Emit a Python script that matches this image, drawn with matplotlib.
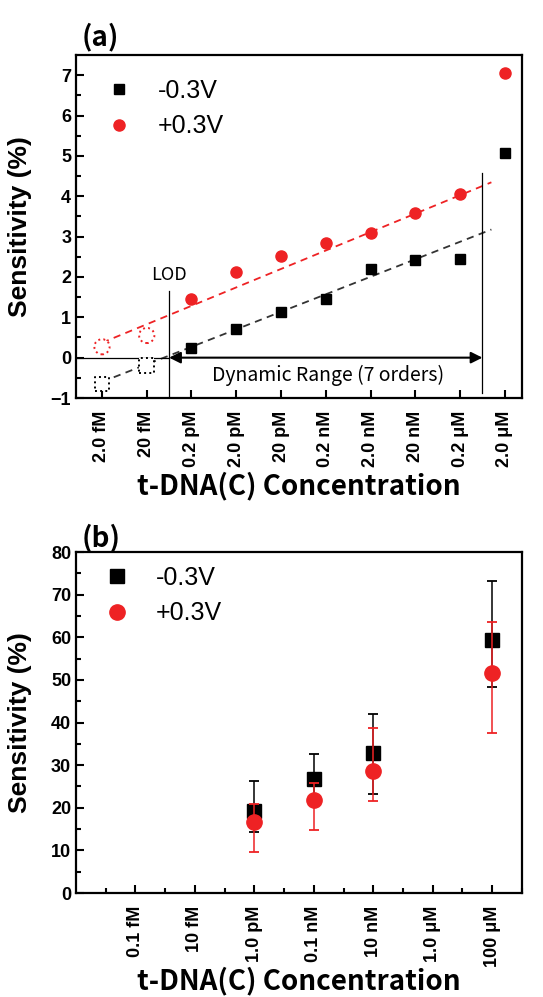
import numpy as np
import matplotlib.pyplot as plt

# panel (a) data
conc_a = ['2.0 fM', '20 fM', '0.2 pM', '2.0 pM', '20 pM', '0.2 nM', '2.0 nM', '20 nM', '0.2 μM', '2.0 μM']
neg_a = [-0.65, -0.2, 0.25, 0.7, 1.13, 1.46, 2.2, 2.42, 2.44, 5.08]
pos_a = [0.27, 0.55, 1.45, 2.13, 2.52, 2.85, 3.08, 3.58, 4.05, 7.05]
below_lod = 2  # first two points are below the LOD (open symbols)
# dashed linear fits: (intercept at first tick, slope per decade)
fit_neg = (-0.6, 0.434)
fit_pos = (0.37, 0.457)
fit_end = 8.7

# panel (b) data
conc_b = ['0.1 fM', '10 fM', '1.0 pM', '0.1 nM', '10 nM', '1.0 μM', '100 μM']
idx_b = [2, 3, 4, 6]
neg_b = [19.2, 26.8, 32.9, 59.4]
neg_b_lo = [14.3, 21.0, 23.2, 48.4]
neg_b_hi = [26.3, 32.6, 42.0, 73.2]
pos_b = [16.7, 21.8, 28.6, 51.6]
pos_b_lo = [9.6, 14.8, 21.6, 37.6]
pos_b_hi = [20.9, 25.8, 38.7, 63.6]

RED = '#ee2224'
tick_font = dict(family='Liberation Sans', weight='bold', size=13)
kfont = ['Noto Sans CJK KR', 'DejaVu Sans']
leg_font = dict(family='Liberation Sans', size=18)

fig = plt.figure(figsize=(5.43, 9.97), dpi=100)
ax1 = fig.add_axes([0.140, 0.6008, 0.821, 0.344])
ax2 = fig.add_axes([0.140, 0.1043, 0.821, 0.342])


def style_axes(ax):
    for s in ax.spines.values():
        s.set_linewidth(1.6)
    ax.tick_params(direction='in', width=1.5, length=6, top=False, right=False)
    ax.tick_params(which='minor', direction='in', width=1.5, length=3.5, top=False, right=False)
    for lab in ax.get_yticklabels():
        lab.set_fontproperties(tick_font)
    ax.set_ylabel('Sensitivity (%)', fontsize=19, fontweight='bold', family='Liberation Sans')
    ax.set_xlabel('t-DNA(C) Concentration', fontsize=20, fontweight='bold', family=kfont)
    ax.xaxis.set_label_coords(0.5, -0.215)
    ax.yaxis.set_label_coords(-0.098, 0.5)


# ---------- (a) ----------
x_a = np.arange(len(conc_a))
ax1.set_xlim(-0.58, 9.38)
ax1.set_ylim(-1, 7.5)

xs = np.array([0, fit_end])
ax1.plot(xs, fit_neg[0] + fit_neg[1] * xs, '--', color='#333333', lw=1.3, dashes=(4, 3), zorder=1)
ax1.plot(xs, fit_pos[0] + fit_pos[1] * xs, '--', color=RED, lw=1.3, dashes=(4, 3), zorder=1)

ax1.scatter(x_a[:below_lod], neg_a[:below_lod], marker='s', s=110, facecolors='white',
            edgecolors='black', linestyles=':', linewidths=1.4, zorder=3)
ax1.scatter(x_a[:below_lod], pos_a[:below_lod], marker='o', s=120, facecolors='white',
            edgecolors=RED, linestyles=':', linewidths=1.4, zorder=3)
ax1.plot(x_a[below_lod:], neg_a[below_lod:], 's', color='black', ms=7, ls='none', label='-0.3V', zorder=3)
ax1.plot(x_a[below_lod:], pos_a[below_lod:], 'o', color=RED, ms=8, ls='none', label='+0.3V', zorder=3)

# LOD and dynamic range guides
ax1.plot([-0.58, 1.5], [0, 0], color='black', lw=0.9)
ax1.plot([1.5, 1.5], [-1, 1.66], color='black', lw=0.9)
ax1.plot([8.5, 8.5], [-0.87, 4.57], color='black', lw=0.9)
ax1.text(1.5, 1.83, 'LOD', ha='center', va='bottom', fontsize=13, family=kfont)
ax1.annotate('', xy=(1.5, 0), xytext=(8.5, 0),
             arrowprops=dict(arrowstyle='<|-|>', color='black', lw=1.5, mutation_scale=17,
                             shrinkA=0, shrinkB=0))
ax1.text(5.05, -0.45, 'Dynamic Range (7 orders)', ha='center', va='center', fontsize=14, family=kfont)

ax1.set_xticks(x_a)
ax1.set_xticklabels(conc_a, rotation=90, fontproperties=tick_font)
ax1.set_yticks(np.arange(-1, 8))
ax1.set_yticks(np.arange(-0.5, 7.5, 1), minor=True)
ax1.tick_params(axis='x', pad=9)
style_axes(ax1)
ax1.legend(loc='upper left', bbox_to_anchor=(-0.01, 0.995), frameon=False, numpoints=1,
           prop=leg_font, handletextpad=0.55, labelspacing=0.45)
ax1.text(0.013, 1.01, '(a)', transform=ax1.transAxes, fontsize=20, fontweight='bold',
         family=kfont, va='bottom', ha='left')

# ---------- (b) ----------
ax2.set_xlim(-1, 6.5)
ax2.set_ylim(0, 80)
neg_err = [np.array(neg_b) - np.array(neg_b_lo), np.array(neg_b_hi) - np.array(neg_b)]
pos_err = [np.array(pos_b) - np.array(pos_b_lo), np.array(pos_b_hi) - np.array(pos_b)]
ax2.errorbar(idx_b, neg_b, yerr=neg_err, fmt='s', color='black', ms=10, elinewidth=1.1,
             capsize=3.5, capthick=1.3, label='-0.3V', zorder=3)
ax2.errorbar(idx_b, pos_b, yerr=pos_err, fmt='o', color=RED, ms=11, elinewidth=1.1,
             capsize=3.5, capthick=1.3, label='+0.3V', zorder=4)
ax2.set_xticks(np.arange(len(conc_b)))
ax2.set_xticklabels(conc_b, rotation=90, fontproperties=tick_font)
ax2.set_xticks(np.arange(-0.5, 6.6, 1), minor=True)
ax2.set_yticks(np.arange(0, 81, 10))
ax2.set_yticks(np.arange(5, 80, 10), minor=True)
ax2.tick_params(axis='x', pad=9)
style_axes(ax2)
h, l = ax2.get_legend_handles_labels()
ax2.legend([hh[0] for hh in h], l, loc='upper left', bbox_to_anchor=(-0.015, 1.025), frameon=False,
           numpoints=1, prop=leg_font, handletextpad=0.55, labelspacing=0.45)
ax2.text(0.013, 1.0, '(b)', transform=ax2.transAxes, fontsize=20, fontweight='bold',
         family=kfont, va='bottom', ha='left')

fig.savefig('out.png', dpi=100)
